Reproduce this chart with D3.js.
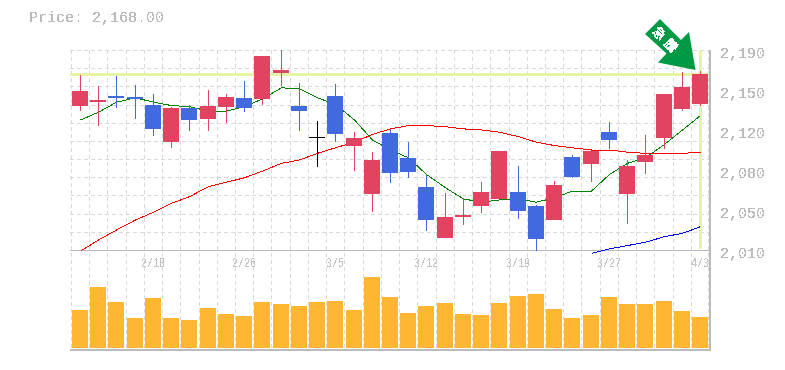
<!DOCTYPE html>
<html>
<head>
<meta charset="utf-8">
<script src="https://cdnjs.cloudflare.com/ajax/libs/d3/7.8.5/d3.min.js"></script>
<style>
  html, body { margin: 0; padding: 0; background: #fff; }
  svg { display: block; }
  text { font-family: "Liberation Mono", monospace; }
</style>
</head>
<body>
<div id="chart"></div>
<script>
var dates = ['2/12', '2/13', '2/14', '2/15', '2/18', '2/19', '2/20', '2/21', '2/22', '2/26',
  '2/27', '2/28', '3/1', '3/4', '3/5', '3/6', '3/7', '3/8', '3/11', '3/12',
  '3/13', '3/14', '3/15', '3/18', '3/19', '3/20', '3/22', '3/25', '3/26', '3/27',
  '3/28', '3/29', '4/1', '4/2', '4/3']
var date_labels = ['2/18', '2/26', '3/5', '3/12', '3/19', '3/27', '4/3']

var open = [2140, 2143, 2149, 2148, 2140.5, 2107, 2138, 2128, 2139, 2147,
  2146, 2169, 2140, 2112, 2149, 2104, 2060, 2115, 2093, 2067,
  2021, 2040, 2050, 2056, 2062, 2050, 2037, 2094, 2087, 2116,
  2060, 2089, 2111, 2137, 2141]
var close = [2153, 2145, 2147, 2146, 2119, 2138, 2127, 2140, 2148, 2138,
  2185, 2172, 2135, 2112, 2114, 2111, 2091, 2079, 2080, 2037,
  2040, 2041.5, 2062, 2099, 2045, 2020, 2068.5, 2076, 2099, 2109,
  2085.6, 2095.5, 2150, 2157, 2168]
var high = [2167.5, 2158, 2167, 2158.5, 2150, 2139, 2140.5, 2154, 2150, 2162,
  2185, 2190, 2160, 2126, 2159, 2116, 2098, 2119, 2107, 2077.5,
  2061, 2057, 2071, 2099, 2085.6, 2050.5, 2072, 2095.5, 2099, 2125,
  2091, 2113.5, 2150, 2170, 2171]
var low = [2135, 2122, 2138, 2128, 2113, 2102, 2117, 2117, 2124, 2134,
  2140.5, 2158, 2117, 2085, 2107, 2081, 2044, 2070, 2075, 2027,
  2021, 2032.5, 2043, 2056, 2038, 2009, 2037, 2075, 2071, 2101,
  2033, 2078, 2101, 2135, 2140]
var volume = [38, 61, 46, 30, 50, 30, 28, 40, 34, 32,
  46, 44, 42, 46, 47, 38, 71, 51, 35, 42,
  45, 34, 33, 45, 52, 54, 39, 30, 33, 51,
  44, 44, 47, 37, 31]

var ma_short = [2127, 2134, 2143, 2147, 2143, 2140, 2139, 2135, 2135, 2139,
  2146, 2156, 2155, 2147, 2141, 2127, 2109, 2100, 2093, 2078,
  2066, 2056, 2053, 2055, 2056, 2053, 2057, 2063, 2063, 2078,
  2088, 2093, 2105, 2118, 2131]
var ma_mid = [2009, 2019, 2028, 2037, 2044, 2052, 2058, 2067, 2071, 2075,
  2081, 2088, 2091, 2097, 2102, 2107, 2114, 2119, 2122, 2122,
  2121, 2119, 2118, 2116, 2112, 2107, 2104, 2102, 2100, 2100,
  2098, 2097, 2097, 2097, 2098]
var ma_long = [null, null, null, null, null, null, null, null, null, null,
  null, null, null, null, null, null, null, null, null, null,
  null, null, null, null, null, null, null, null, 2007, 2011,
  2014, 2017, 2022, 2025, 2031]

var price_ticks = [2190, 2154, 2118, 2082, 2046, 2010]
var last_price = 2168

var w = 785
var h = 370
var red = '#e24360'
var blue = '#426ae0'
var orange = '#ffb733'
var highlight = '#e4f5a8'
var axis_grey = '#bbbbbb'
var grid_grey = '#d9d9d9'

var svg = d3.select('#chart').append('svg')
  .attr('width', w)
  .attr('height', h)
  .attr('viewBox', [0, 0, w, h].join(' '))

// hard edged text, the original has no smoothing
var hard = svg.append('defs').append('filter')
  .attr('id', 'hard')
  .attr('filterUnits', 'userSpaceOnUse')
  .attr('x', -w).attr('y', -h).attr('width', 2 * w).attr('height', 2 * h)
  .attr('color-interpolation-filters', 'sRGB')
hard.append('feComponentTransfer').append('feFuncA')
  .attr('type', 'discrete')
  .attr('tableValues', '0 0 1 1 1')

var x = d3.scaleBand().domain(dates).range([70.9, 709.1]).paddingInner(0.123).paddingOuter(0.06)
var center = function (d) { return Math.round(x(d) + x.bandwidth() / 2) }
var y = d3.scaleLinear().domain([2010, 2190]).range([250, 50])
var y_vol = d3.scaleLinear().domain([0, 98]).range([348, 250])

// grid
var grid = svg.append('g').attr('shape-rendering', 'crispEdges')
  .attr('stroke', grid_grey)
  .attr('stroke-dasharray', '4 3')
dates.forEach(function (d) {
  var gx = Math.round(x(d) - x.step() * x.paddingInner() / 2)
  grid.append('line').attr('x1', gx).attr('x2', gx).attr('y1', y(2190)).attr('y2', y_vol(0) + 1)
})
grid.append('line').attr('x1', 708).attr('x2', 708).attr('y1', y(2190)).attr('y2', y_vol(0) + 1)
d3.range(0, 12).forEach(function (i) {
  var gy = Math.round(y(2190) + i * (y(2010) - y(2190)) / 11)
  grid.append('line').attr('x1', 70).attr('x2', 710).attr('y1', gy).attr('y2', gy)
})

// highlight of the last price and date
var highlights = svg.append('g').attr('shape-rendering', 'crispEdges').attr('fill', highlight)
highlights.append('rect')
  .attr('x', 70).attr('width', 640)
  .attr('y', y(last_price) - 1.5).attr('height', 3)
highlights.append('rect')
  .attr('x', center(dates[dates.length - 1]) - 1).attr('width', 3)
  .attr('y', y(2190) + 1).attr('height', 198)

// frame
var frame = svg.append('g').attr('shape-rendering', 'crispEdges').attr('stroke', axis_grey)
frame.append('line').attr('x1', 70).attr('x2', 710).attr('y1', 250.5).attr('y2', 250.5)
frame.append('line').attr('x1', 70).attr('x2', 711).attr('y1', 349.5).attr('y2', 349.5).attr('stroke-width', 2)
frame.append('line').attr('x1', 710).attr('x2', 710).attr('y1', 50).attr('y2', 350).attr('stroke-width', 2)

// volume
svg.append('g').attr('shape-rendering', 'crispEdges').selectAll('rect')
  .data(dates)
  .enter().append('rect')
  .attr('x', function (d) { return center(d) - 8 })
  .attr('width', 16)
  .attr('y', function (d, i) { return y_vol(volume[i]) })
  .attr('height', function (d, i) { return y_vol(0) - y_vol(volume[i]) })
  .attr('fill', orange)

// moving averages
var line = d3.line()
  .defined(function (o) { return o[1] !== null })
  .x(function (o) { return center(o[0]) + 0.5 })
  .y(function (o) { return y(o[1]) })
var draw_ma = function (values, color) {
  svg.append('path')
    .datum(dates.map(function (d, i) { return [d, values[i]] }))
    .attr('d', line)
    .attr('fill', 'none')
    .attr('stroke', color)
    .attr('stroke-width', 1)
    .attr('shape-rendering', 'crispEdges')
}
draw_ma(ma_mid, '#ff0000')
draw_ma(ma_short, '#008000')
draw_ma(ma_long, '#0000ff')

// candles
var candle_color = function (i) {
  if (open[i] === close[i]) return '#000000'
  return close[i] > open[i] ? red : blue
}
var candles = svg.append('g').attr('shape-rendering', 'crispEdges')
dates.forEach(function (d, i) {
  var cx = center(d)
  candles.append('line')
    .attr('x1', cx + 0.5).attr('x2', cx + 0.5)
    .attr('y1', y(high[i])).attr('y2', y(low[i]))
    .attr('stroke', candle_color(i))
  var top = y(Math.max(open[i], close[i]))
  var bottom = y(Math.min(open[i], close[i]))
  candles.append('rect')
    .attr('x', cx - 8)
    .attr('width', 16)
    .attr('y', top)
    .attr('height', Math.max(bottom - top, 1))
    .attr('fill', candle_color(i))
})

// arrow on the last candle, offsets from its tip
var last = dates[dates.length - 1]
var arrow = svg.append('g')
  .attr('transform', 'translate(' + (center(last) - 4.5) + ' ' + (y(high[high.length - 1]) - 1) + ')')
arrow.append('path')
  .attr('d', 'M0 0L-37.5 -7.5L-29 -16.5L-50.5 -36L-35.5 -51L-14.5 -30L-6.5 -38Z')
  .attr('fill', '#009944')
arrow.append('g').attr('filter', 'url(#hard)').append('text')
  .attr('transform', 'translate(-29 -29) rotate(45)')
  .attr('text-anchor', 'middle')
  .attr('dy', '0.35em')
  .attr('fill', '#ffffff')
  .style('font-family', '"Noto Sans CJK JP"')
  .style('font-weight', 'bold')
  .style('font-size', '13px')
  .style('letter-spacing', '4px')
  .text('急騰')

// labels
var labels = svg.append('g').attr('filter', 'url(#hard)')
labels.append('text')
  .attr('x', 29).attr('y', 22)
  .attr('fill', axis_grey)
  .style('font-size', '15px')
  .text('Price: ' + d3.format(',.2f')(last_price))

labels.append('g').selectAll('text')
  .data(price_ticks)
  .enter().append('text')
  .attr('x', 720)
  .attr('y', function (d) { return y(d) + 8 })
  .attr('fill', axis_grey)
  .style('font-size', '15px')
  .text(function (d) { return d3.format(',')(Math.round(d / 10) * 10) })

labels.append('g').selectAll('text')
  .data(date_labels)
  .enter().append('text')
  .attr('x', function (d) { return center(d) })
  .attr('y', 267)
  .attr('text-anchor', 'middle')
  .attr('fill', '#c4c4c4')
  .attr('textLength', function (d) { return d.length * 6 })
  .attr('lengthAdjust', 'spacingAndGlyphs')
  .style('font-size', '13px')
  .text(function (d) { return d })
</script>
</body>
</html>
